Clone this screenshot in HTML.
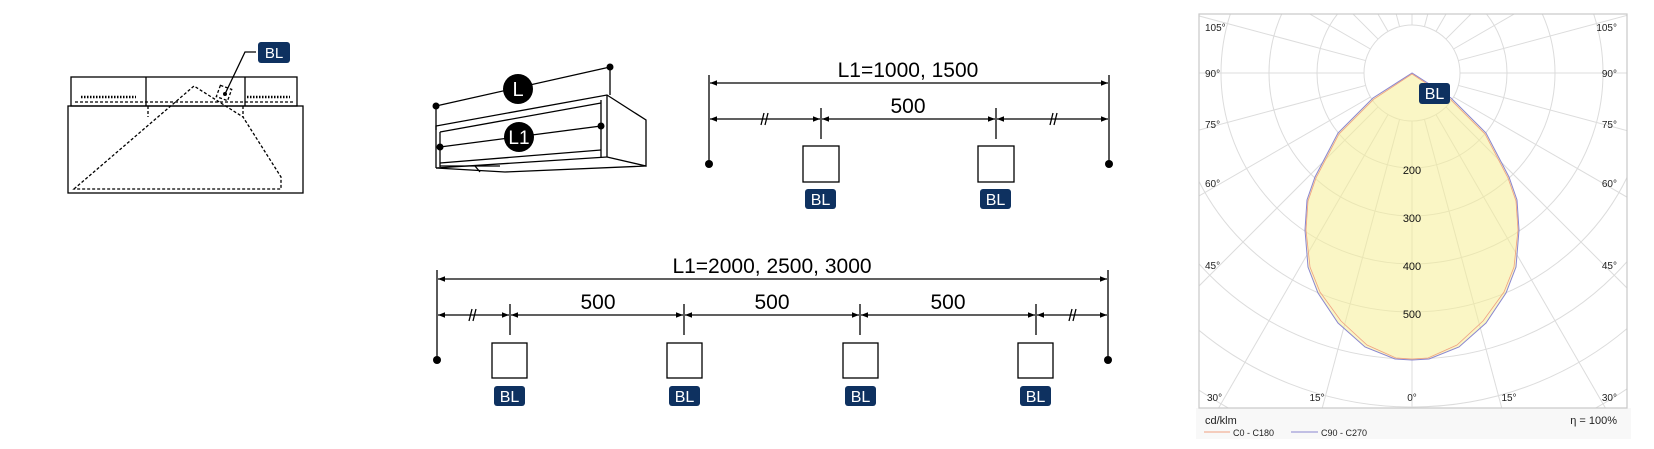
<!DOCTYPE html>
<html><head><meta charset="utf-8"><style>
html,body{margin:0;padding:0;background:#fff;overflow:hidden;}
svg{display:block;}
text{font-family:"Liberation Sans",sans-serif;}
</style></head><body>
<svg width="1654" height="449" viewBox="0 0 1654 449" xmlns="http://www.w3.org/2000/svg">
<defs>
<marker id="ar" viewBox="0 0 10 10" refX="10" refY="5" markerWidth="10" markerHeight="7" orient="auto-start-reverse" markerUnits="userSpaceOnUse"><path d="M0,1 L10,5 L0,9 z" fill="#000"/></marker>
<clipPath id="cb"><rect x="1199" y="14" width="428" height="394"/></clipPath>
</defs>

<!-- Left drawing -->
<g stroke="#000" stroke-width="1.3" fill="none">
<rect x="71" y="77" width="226" height="29"/>
<line x1="146" y1="77" x2="146" y2="106"/>
<line x1="245" y1="77" x2="245" y2="106"/>
<rect x="68" y="106" width="235" height="87"/>
<g stroke-dasharray="3,2">
<line x1="75" y1="102" x2="293" y2="102"/>
<path d="M74,189 L194,86 L243,117 L281,177 L281,189 Z"/>
<line x1="148" y1="106" x2="148" y2="117"/>
<line x1="243" y1="106" x2="243" y2="117"/>
<rect x="218" y="87" width="12" height="12" transform="rotate(20 224 93)"/>
</g>
<g stroke-dasharray="1.5,1.5" stroke-width="2.5">
<line x1="81" y1="97" x2="136" y2="97"/>
<line x1="247" y1="97" x2="290" y2="97"/>
</g>
<polyline points="256,52 245,52 225,94"/>
</g>
<circle cx="225" cy="94" r="2" fill="#000"/>
<rect x="258" y="42" width="32" height="21" rx="3" fill="#0e3160"/>
<text x="274" y="58" font-size="15" fill="#fff" text-anchor="middle">BL</text>

<!-- Isometric luminaire -->
<g stroke="#000" stroke-width="1.3" fill="none">
<line x1="436" y1="106" x2="610" y2="67"/>
<line x1="436" y1="106" x2="436" y2="130"/>
<line x1="610" y1="67" x2="610" y2="95"/>
<polyline points="436,168 436,126 607,95 646,120 646,166 607,157"/>
<line x1="440" y1="132" x2="601" y2="103"/>
<line x1="440" y1="132" x2="440" y2="167"/>
<line x1="601" y1="100" x2="601" y2="157"/>
<line x1="607" y1="95" x2="607" y2="157"/>
<line x1="440" y1="163" x2="601" y2="150"/>
<line x1="436" y1="168" x2="607" y2="157"/>
<polyline points="436,168 505,172 646,166"/>
<line x1="440" y1="166" x2="500" y2="166"/>
<line x1="475" y1="166" x2="480" y2="172"/>
<line x1="440" y1="147" x2="601" y2="126"/>
</g>
<circle cx="436" cy="106" r="3.5" fill="#000"/>
<circle cx="610" cy="67" r="3.5" fill="#000"/>
<circle cx="440" cy="147" r="3.5" fill="#000"/>
<circle cx="601" cy="126" r="3.5" fill="#000"/>
<circle cx="518" cy="89" r="15" fill="#000"/>
<text x="518" y="96" font-size="20" fill="#fff" text-anchor="middle">L</text>
<circle cx="519" cy="137" r="15" fill="#000"/>
<text x="519" y="144" font-size="19" fill="#fff" text-anchor="middle">L1</text>

<!-- Top dimension diagram -->
<g stroke="#000" stroke-width="1.3" fill="none">
<line x1="709" y1="75" x2="709" y2="164"/>
<line x1="1109" y1="75" x2="1109" y2="164"/>
<line x1="710" y1="83" x2="1108" y2="83" marker-start="url(#ar)" marker-end="url(#ar)"/>
<line x1="821" y1="108" x2="821" y2="139"/>
<line x1="996" y1="108" x2="996" y2="139"/>
<line x1="710" y1="119" x2="820" y2="119" marker-start="url(#ar)" marker-end="url(#ar)"/>
<line x1="822" y1="119" x2="995" y2="119" marker-start="url(#ar)" marker-end="url(#ar)"/>
<line x1="997" y1="119" x2="1108" y2="119" marker-start="url(#ar)" marker-end="url(#ar)"/>
<line x1="761" y1="125" x2="764" y2="113"/><line x1="765" y1="125" x2="768" y2="113"/>
<line x1="1050" y1="125" x2="1053" y2="113"/><line x1="1054" y1="125" x2="1057" y2="113"/>
<rect x="803" y="146" width="36" height="36"/>
<rect x="978" y="146" width="36" height="36"/>
</g>
<circle cx="709" cy="164" r="4" fill="#000"/>
<circle cx="1109" cy="164" r="4" fill="#000"/>
<text x="908" y="77" font-size="21" text-anchor="middle">L1=1000, 1500</text>
<text x="908" y="113" font-size="21" text-anchor="middle">500</text>
<rect x="805" y="189" width="31" height="20" rx="3" fill="#0e3160"/>
<text x="820.5" y="205" font-size="16" fill="#fff" text-anchor="middle">BL</text>
<rect x="980" y="189" width="31" height="20" rx="3" fill="#0e3160"/>
<text x="995.5" y="205" font-size="16" fill="#fff" text-anchor="middle">BL</text>

<!-- Bottom dimension diagram -->
<g stroke="#000" stroke-width="1.3" fill="none">
<line x1="437" y1="270" x2="437" y2="360"/>
<line x1="1108" y1="270" x2="1108" y2="360"/>
<line x1="438" y1="279" x2="1107" y2="279" marker-start="url(#ar)" marker-end="url(#ar)"/>
<line x1="510" y1="304" x2="510" y2="335"/>
<line x1="684" y1="304" x2="684" y2="335"/>
<line x1="860" y1="304" x2="860" y2="335"/>
<line x1="1036" y1="304" x2="1036" y2="335"/>
<line x1="438" y1="315" x2="509" y2="315" marker-start="url(#ar)" marker-end="url(#ar)"/>
<line x1="511" y1="315" x2="683" y2="315" marker-start="url(#ar)" marker-end="url(#ar)"/>
<line x1="685" y1="315" x2="859" y2="315" marker-start="url(#ar)" marker-end="url(#ar)"/>
<line x1="861" y1="315" x2="1035" y2="315" marker-start="url(#ar)" marker-end="url(#ar)"/>
<line x1="1037" y1="315" x2="1107" y2="315" marker-start="url(#ar)" marker-end="url(#ar)"/>
<line x1="469" y1="321" x2="472" y2="309"/><line x1="473" y1="321" x2="476" y2="309"/>
<line x1="1069" y1="321" x2="1072" y2="309"/><line x1="1073" y1="321" x2="1076" y2="309"/>
<rect x="492" y="343" width="35" height="35"/>
<rect x="667" y="343" width="35" height="35"/>
<rect x="843" y="343" width="35" height="35"/>
<rect x="1018" y="343" width="35" height="35"/>
</g>
<circle cx="437" cy="360" r="4" fill="#000"/>
<circle cx="1108" cy="360" r="4" fill="#000"/>
<text x="772" y="273" font-size="21" text-anchor="middle">L1=2000, 2500, 3000</text>
<text x="598" y="309" font-size="21" text-anchor="middle">500</text>
<text x="772" y="309" font-size="21" text-anchor="middle">500</text>
<text x="948" y="309" font-size="21" text-anchor="middle">500</text>
<g fill="#0e3160">
<rect x="494" y="386" width="31" height="20" rx="3"/>
<rect x="669" y="386" width="31" height="20" rx="3"/>
<rect x="845" y="386" width="31" height="20" rx="3"/>
<rect x="1020" y="386" width="31" height="20" rx="3"/>
</g>
<g fill="#fff" font-size="16" text-anchor="middle">
<text x="509.5" y="402">BL</text><text x="684.5" y="402">BL</text><text x="860.5" y="402">BL</text><text x="1035.5" y="402">BL</text>
</g>

<!-- Polar chart -->
<rect x="1196" y="408" width="435" height="31" fill="#f8f8f8"/>
<g clip-path="url(#cb)">
<rect x="1199" y="14" width="428" height="394" fill="#fff"/>
<g stroke="#dcdcdc" stroke-width="1" fill="none">
<circle cx="1412" cy="73" r="48"/><circle cx="1412" cy="73" r="95"/><circle cx="1412" cy="73" r="143"/>
<circle cx="1412" cy="73" r="191"/><circle cx="1412" cy="73" r="239"/><circle cx="1412" cy="73" r="286"/>
<circle cx="1412" cy="73" r="334"/><circle cx="1412" cy="73" r="382"/><circle cx="1412" cy="73" r="430"/>
<g>
<line x1="1412" y1="121" x2="1412" y2="800"/>
<line x1="1412" y1="121" x2="1412" y2="800" transform="rotate(15 1412 73)"/>
<line x1="1412" y1="121" x2="1412" y2="800" transform="rotate(30 1412 73)"/>
<line x1="1412" y1="121" x2="1412" y2="800" transform="rotate(45 1412 73)"/>
<line x1="1412" y1="121" x2="1412" y2="800" transform="rotate(60 1412 73)"/>
<line x1="1412" y1="121" x2="1412" y2="800" transform="rotate(75 1412 73)"/>
<line x1="1412" y1="121" x2="1412" y2="800" transform="rotate(90 1412 73)"/>
<line x1="1412" y1="121" x2="1412" y2="800" transform="rotate(105 1412 73)"/>
<line x1="1412" y1="121" x2="1412" y2="800" transform="rotate(120 1412 73)"/>
<line x1="1412" y1="121" x2="1412" y2="800" transform="rotate(135 1412 73)"/>
<line x1="1412" y1="121" x2="1412" y2="800" transform="rotate(150 1412 73)"/>
<line x1="1412" y1="121" x2="1412" y2="800" transform="rotate(165 1412 73)"/>
<line x1="1412" y1="121" x2="1412" y2="800" transform="rotate(180 1412 73)"/>
<line x1="1412" y1="121" x2="1412" y2="800" transform="rotate(-15 1412 73)"/>
<line x1="1412" y1="121" x2="1412" y2="800" transform="rotate(-30 1412 73)"/>
<line x1="1412" y1="121" x2="1412" y2="800" transform="rotate(-45 1412 73)"/>
<line x1="1412" y1="121" x2="1412" y2="800" transform="rotate(-60 1412 73)"/>
<line x1="1412" y1="121" x2="1412" y2="800" transform="rotate(-75 1412 73)"/>
<line x1="1412" y1="121" x2="1412" y2="800" transform="rotate(-90 1412 73)"/>
<line x1="1412" y1="121" x2="1412" y2="800" transform="rotate(-105 1412 73)"/>
<line x1="1412" y1="121" x2="1412" y2="800" transform="rotate(-120 1412 73)"/>
<line x1="1412" y1="121" x2="1412" y2="800" transform="rotate(-135 1412 73)"/>
<line x1="1412" y1="121" x2="1412" y2="800" transform="rotate(-150 1412 73)"/>
<line x1="1412" y1="121" x2="1412" y2="800" transform="rotate(-165 1412 73)"/>
</g>
</g>
<path d="M1412,73 L1373,98 L1338,133 L1315,177 L1307,200 L1305,230 L1308,267 L1318,293 L1338,323 L1365,347 L1395,359 L1412,360 L1429,359 L1459,347 L1486,323 L1506,293 L1516,267 L1519,230 L1517,200 L1509,177 L1486,133 L1451,98 Z" fill="rgba(245,238,150,0.55)" stroke="#8a86d0" stroke-width="1"/>
<path d="M1412,74 L1374,99 L1339,134 L1316,178 L1308,201 L1306,230 L1310,267 L1320,292 L1341,321 L1367,345 L1396,358 L1412,359 L1428,358 L1457,345 L1483,321 L1504,292 L1514,267 L1518,230 L1516,201 L1508,178 L1485,134 L1450,99 Z" fill="none" stroke="#f0a080" stroke-width="0.8"/>
</g>
<rect x="1199" y="14" width="428" height="394" fill="none" stroke="#c8c8c8" stroke-width="1.2"/>
<g font-size="10" fill="#222">
<text x="1205" y="31">105°</text><text x="1205" y="77">90°</text><text x="1205" y="128">75°</text>
<text x="1205" y="187">60°</text><text x="1205" y="269">45°</text><text x="1207" y="401">30°</text>
<text x="1617" y="31" text-anchor="end">105°</text><text x="1617" y="77" text-anchor="end">90°</text><text x="1617" y="128" text-anchor="end">75°</text>
<text x="1617" y="187" text-anchor="end">60°</text><text x="1617" y="269" text-anchor="end">45°</text><text x="1617" y="401" text-anchor="end">30°</text>
<text x="1317" y="401" text-anchor="middle">15°</text><text x="1412" y="401" text-anchor="middle">0°</text><text x="1509" y="401" text-anchor="middle">15°</text>
</g>
<g font-size="11" fill="#111" text-anchor="middle">
<text x="1412" y="174">200</text><text x="1412" y="222">300</text><text x="1412" y="270">400</text><text x="1412" y="318">500</text>
</g>
<rect x="1419" y="83" width="31" height="21" rx="3" fill="#0e3160"/>
<text x="1434.5" y="99" font-size="16" fill="#fff" text-anchor="middle">BL</text>
<text x="1205" y="424" font-size="11" fill="#222">cd/klm</text>
<text x="1617" y="424" font-size="11" fill="#222" text-anchor="end">η =  100%</text>
<line x1="1204" y1="432" x2="1230" y2="432" stroke="#f0a080" stroke-width="1"/>
<text x="1233" y="436" font-size="9" fill="#222">C0 - C180</text>
<line x1="1291" y1="432" x2="1318" y2="432" stroke="#8a86d0" stroke-width="1"/>
<text x="1321" y="436" font-size="9" fill="#222">C90 - C270</text>
</svg>
</body></html>
